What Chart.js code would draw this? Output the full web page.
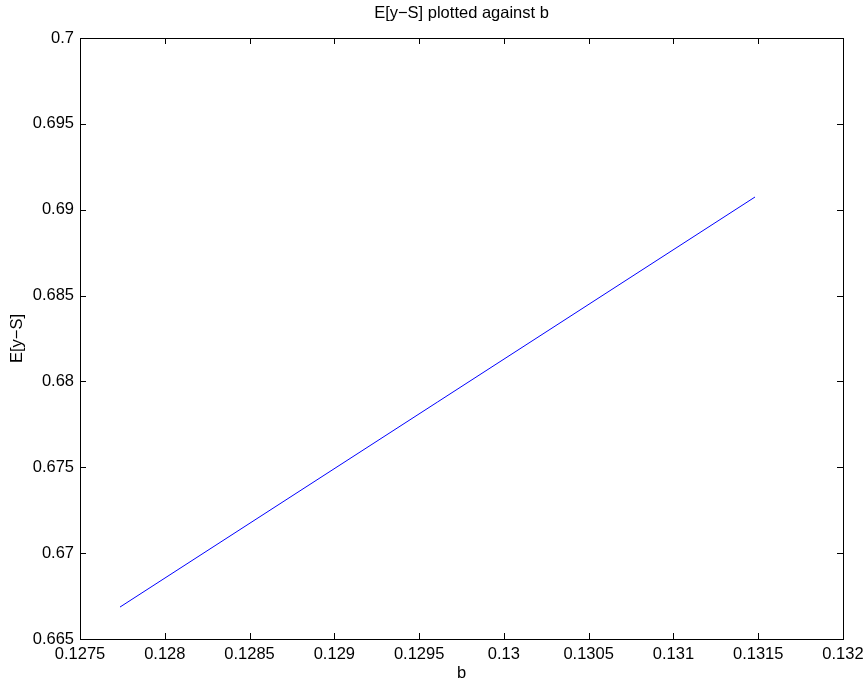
<!DOCTYPE html>
<html>
<head>
<meta charset="utf-8">
<script src="https://cdn.jsdelivr.net/npm/chart.js@4/dist/chart.umd.min.js"></script>
<style>
html,body{margin:0;padding:0;background:#fff;}
#wrap{width:867px;height:684px;position:relative;}
</style>
</head>
<body>
<div id="wrap"><canvas id="c" width="867" height="684"></canvas></div>
<script>
const bValues = [0.127736, 0.131481];
const eValues = [0.66686, 0.69074];
const xTicks = [0.1275, 0.128, 0.1285, 0.129, 0.1295, 0.13, 0.1305, 0.131, 0.1315, 0.132];
const yTicks = [0.665, 0.67, 0.675, 0.68, 0.685, 0.69, 0.695, 0.7];
const titleText = 'E[y\u2212S] plotted against b';
const xLabel = 'b';
const yLabel = 'E[y\u2212S]';

const FONT = 'Liberation Sans, Arial, Helvetica, sans-serif';
const FS = 16.5;

const boxPlugin = {
  id: 'box',
  afterDraw(chart) {
    const ctx = chart.ctx, a = chart.chartArea;
    const xs = chart.scales.x, ys = chart.scales.y;
    ctx.save();
    ctx.strokeStyle = '#000';
    ctx.lineWidth = 1;
    ctx.strokeRect(Math.round(a.left) + 0.5, Math.round(a.top) + 0.5, Math.round(a.right - a.left), Math.round(a.bottom - a.top));
    const tl = 6;
    ctx.beginPath();
    xTicks.forEach(v => {
      const px = Math.round(xs.getPixelForValue(v)) + 0.5;
      ctx.moveTo(px, a.bottom); ctx.lineTo(px, a.bottom - tl);
      ctx.moveTo(px, a.top); ctx.lineTo(px, a.top + tl);
    });
    yTicks.forEach(v => {
      const py = Math.round(ys.getPixelForValue(v)) + 0.5;
      ctx.moveTo(a.left, py); ctx.lineTo(a.left + tl, py);
      ctx.moveTo(a.right, py); ctx.lineTo(a.right - tl, py);
    });
    ctx.stroke();
    ctx.fillStyle = '#000';
    ctx.font = FS + 'px ' + FONT;
    ctx.textAlign = 'center';
    ctx.textBaseline = 'middle';
    ctx.fillText(titleText, (a.left + a.right) / 2, 13);
    ctx.restore();
  }
};

const fmt = v => String(parseFloat(Number(v).toFixed(5)));

new Chart(document.getElementById('c'), {
  type: 'line',
  data: {
    datasets: [{
      data: bValues.map((b, i) => ({x: b, y: eValues[i]})),
      borderColor: '#0000ff',
      borderWidth: 1,
      pointRadius: 0,
      fill: false,
      tension: 0
    }]
  },
  options: {
    responsive: false,
    animation: false,
    devicePixelRatio: 1,
    layout: {padding: {top: 38, right: 24, left: 0, bottom: 0}},
    plugins: {legend: {display: false}, tooltip: {enabled: false}, title: {display: false}},
    scales: {
      x: {
        type: 'linear',
        min: 0.1275, max: 0.132,
        afterBuildTicks: s => { s.ticks = xTicks.map(v => ({value: v})); },
        afterFit: s => { s.height = 45; s.paddingLeft = 0; s.paddingRight = 0; },
        grid: {display: false, drawTicks: false},
        border: {display: false},
        ticks: {padding: 6, color: '#000', font: {family: FONT, size: FS}, callback: fmt, maxRotation: 0, autoSkip: false},
        title: {display: true, text: xLabel, color: '#000', font: {family: FONT, size: FS}, padding: {top: 0, bottom: 1}}
      },
      y: {
        type: 'linear',
        min: 0.665, max: 0.7,
        afterBuildTicks: s => { s.ticks = yTicks.map(v => ({value: v})); },
        afterFit: s => { s.width = 80; s.paddingTop = 0; s.paddingBottom = 0; },
        grid: {display: false, drawTicks: false},
        border: {display: false},
        ticks: {padding: 6, color: '#000', font: {family: FONT, size: FS}, callback: fmt, autoSkip: false},
        title: {display: true, text: yLabel, color: '#000', font: {family: FONT, size: FS}, padding: {top: 8, bottom: 0}}
      }
    }
  },
  plugins: [boxPlugin]
});
</script>
</body>
</html>
